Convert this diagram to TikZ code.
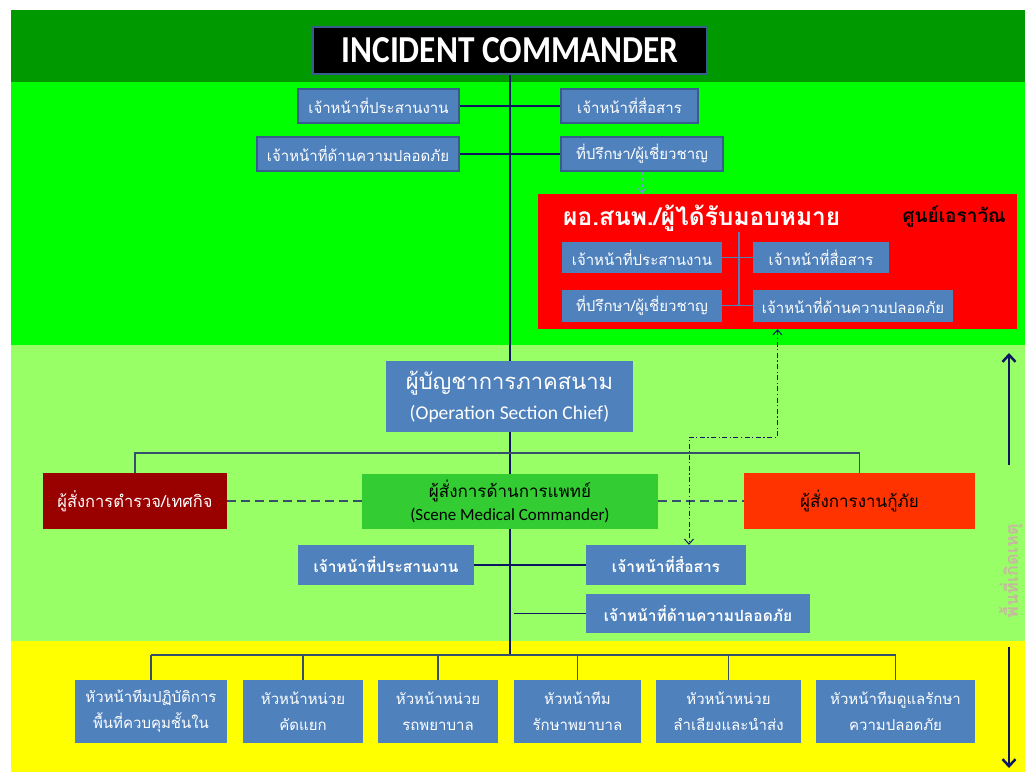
\documentclass[tikz,border=0pt]{standalone}
\usepackage{fontspec}
\setmainfont{Carlito}
\newfontfamily\thai[Script=Thai]{Loma}
\usetikzlibrary{arrows.meta}
\definecolor{dkgreen}{HTML}{009900}
\definecolor{brgreen}{HTML}{00FF00}
\definecolor{ltgreen}{HTML}{99FF66}
\definecolor{yel}{HTML}{FFFF00}
\definecolor{bxblue}{HTML}{4F81BD}
\definecolor{bxborder}{HTML}{385D8A}
\definecolor{navy}{HTML}{0D1660}
\definecolor{slate}{HTML}{34506A}
\definecolor{polred}{HTML}{990000}
\definecolor{medgreen}{HTML}{33CC33}
\definecolor{resred}{HTML}{FF3300}
\definecolor{areatxt}{HTML}{C6B8A0}
\pgfdeclarelayer{bands}
\pgfdeclarelayer{lines}
\pgfsetlayers{bands,lines,main}
\tikzset{
  bluebox/.style={fill=bxblue, draw=bxborder, line width=1.5pt, inner sep=0pt, text=white, align=center,
     font=\thai\fontsize{15}{17}\selectfont},
  flatbox/.style={fill=bxblue, inner sep=0pt, text=white, align=center, font=\thai\fontsize{15}{17}\selectfont},
  staffbox/.style={fill=bxblue, inner sep=0pt, text=white, align=center, font=\thai\bfseries\fontsize{15.5}{17}\selectfont},
  unitbox/.style={fill=bxblue, inner sep=0pt, text=white, align=center, font=\thai\fontsize{15}{26}\selectfont},
  trunk/.style={draw=navy, line width=1.4pt},
  link/.style={draw=navy, line width=1.2pt},
  tree/.style={draw=slate, line width=1.2pt},
  dashlink/.style={draw=slate, line width=1.5pt, dash pattern=on 9pt off 5pt},
  redlink/.style={draw=bxblue, line width=1.5pt},
  bigarrow/.style={draw=navy, line width=2.5pt, -{Straight Barb[length=7pt,width=13pt,line width=2.5pt]}},
}
\begin{document}
\begin{tikzpicture}[x=1pt,y=-1pt]
\useasboundingbox (0,0) rectangle (1025,772);
\begin{pgfonlayer}{bands}
  \fill[white] (0,0) rectangle (1025,772);
  \fill[dkgreen] (11,10) rectangle (1025,82);
  \fill[brgreen] (11,82) rectangle (1025,345);
  \fill[ltgreen] (11,345) rectangle (1025,641);
  \fill[yel] (11,641) rectangle (1025,772);
\end{pgfonlayer}

% Incident commander
\node[fill=black, draw=bxborder, line width=2pt, minimum width=394pt, minimum height=47pt, inner sep=0pt,
      text=white, font=\bfseries\fontsize{34}{36}\selectfont] (ic) at (510,50.5) {\scalebox{0.98}[1.12]{INCIDENT COMMANDER}};

% command staff
\node[bluebox, minimum width=161pt, minimum height=34pt] (a1) at (378.5,106) {เจ้าหน้าที่ประสานงาน};
\node[bluebox, minimum width=137pt, minimum height=34pt] (a2) at (629.5,106) {เจ้าหน้าที่สื่อสาร};
\node[bluebox, minimum width=202pt, minimum height=34pt] (a3) at (358,154) {เจ้าหน้าที่ด้านความปลอดภัย};
\node[bluebox, minimum width=162pt, minimum height=34pt] (a4) at (642,154) {ที่ปรึกษา/ผู้เชี่ยวชาญ};

% red box
\node[fill=red, minimum width=479pt, minimum height=135pt, inner sep=0pt] (red) at (777.5,261.5) {};
\node[anchor=west, inner sep=0pt, text=white, font=\thai\bfseries\fontsize{24.5}{26}\selectfont] (redtitle) at (563,218) {ผอ.สนพ./ผู้ได้รับมอบหมาย};
\node[anchor=east, inner sep=0pt, text=black, font=\thai\bfseries\fontsize{19}{21}\selectfont] (erawan) at (1006,216) {ศูนย์เอราวัณ};
\node[flatbox, minimum width=160pt, minimum height=31pt] (r1) at (642,257.5) {เจ้าหน้าที่ประสานงาน};
\node[flatbox, minimum width=136pt, minimum height=31pt] (r2) at (821,257.5) {เจ้าหน้าที่สื่อสาร};
\node[flatbox, minimum width=160pt, minimum height=32pt] (r3) at (642,305.5) {ที่ปรึกษา/ผู้เชี่ยวชาญ};
\node[flatbox, minimum width=200pt, minimum height=32pt] (r4) at (853,305.5) {เจ้าหน้าที่ด้านความปลอดภัย};
\coordinate (rv) at (739,232);
\draw[redlink] (r1.east) -- (r2.west);
\draw[redlink] (r3.east) -- (r4.west);
\draw[redlink] (rv) -- (rv |- r4.west);

% operation section chief
\node[fill=bxblue, minimum width=247pt, minimum height=71pt, inner sep=0pt, text=white, align=center] (osc) at (509.5,396.5)
  {{\thai\fontsize{22}{24}\selectfont ผู้บัญชาการภาคสนาม}\\[9pt]{\fontsize{19.5}{21}\selectfont (Operation Section Chief)}};

% commanders
\node[fill=polred, minimum width=184pt, minimum height=56pt, inner sep=0pt, text=white,
      font=\thai\fontsize{16.5}{18}\selectfont] (pol) at (135,501) {ผู้สั่งการตำรวจ/เทศกิจ};
\node[fill=medgreen, minimum width=296pt, minimum height=55pt, inner sep=0pt, text=black, align=center] (med) at (510,501)
  {{\thai\fontsize{17}{19}\selectfont ผู้สั่งการด้านการแพทย์}\\[5pt]{\fontsize{17}{18}\selectfont (Scene Medical Commander)}};
\node[fill=resred, minimum width=231pt, minimum height=56pt, inner sep=0pt, text=black,
      font=\thai\fontsize{17}{19}\selectfont] (res) at (859.5,501) {ผู้สั่งการงานกู้ภัย};
\coordinate (hl) at (135,453);

% medical staff
\node[staffbox, minimum width=176pt, minimum height=40pt] (m1) at (386,565) {เจ้าหน้าที่ประสานงาน};
\node[staffbox, minimum width=160pt, minimum height=40pt] (m2) at (666,565) {เจ้าหน้าที่สื่อสาร};
\node[staffbox, minimum width=224pt, minimum height=39pt] (m3) at (698,613.5) {เจ้าหน้าที่ด้านความปลอดภัย};
\coordinate (m3s) at (514,613.5);
\coordinate (dd) at (689,437);

% units
\node[unitbox, minimum width=152pt, minimum height=63pt] (b1) at (151,711.5) {หัวหน้าทีมปฏิบัติการ\\พื้นที่ควบคุมชั้นใน};
\node[unitbox, minimum width=120pt, minimum height=63pt] (b2) at (303,711.5) {หัวหน้าหน่วย\\คัดแยก};
\node[unitbox, minimum width=120pt, minimum height=63pt] (b3) at (438,711.5) {หัวหน้าหน่วย\\รถพยาบาล};
\node[unitbox, minimum width=127pt, minimum height=63pt] (b4) at (577.5,711.5) {หัวหน้าทีม\\รักษาพยาบาล};
\node[unitbox, minimum width=145pt, minimum height=63pt] (b5) at (728.5,711.5) {หัวหน้าหน่วย\\ลำเลียงและนำส่ง};
\node[unitbox, minimum width=159pt, minimum height=63pt] (b6) at (895.5,711.5) {หัวหน้าทีมดูแลรักษา\\ความปลอดภัย};
\coordinate (ybl) at (151,655);
\coordinate (ybr) at (895.5,655);

% right side
\coordinate (upS) at (1009,465);
\coordinate (upE) at (1009,353);
\coordinate (dnS) at (1009,647);
\coordinate (dnE) at (1009,768);
\node[rotate=90, text=areatxt, inner sep=0pt, font=\thai\bfseries\fontsize{18}{20}\selectfont] (area) at (1011,571) {พื้นที่เกิดเหตุ};

\begin{pgfonlayer}{lines}
  \draw[trunk] (ic.south) -- (ic.south |- ybl);
  \draw[link] (a1.east) -- (a2.west);
  \draw[link] (a3.east) -- (a4.west);
  \draw[draw=bxblue!80!white, line width=1pt, dashed, -{Straight Barb[length=5pt,width=8pt]}] (a4.south) -- (a4.south |- red.north);
  \draw[tree] (pol.north) -- (pol.north |- hl) -- (res.north |- hl) -- (res.north);
  \draw[dashlink] (pol.east) -- (med.west);
  \draw[dashlink] (med.east) -- (res.west);
  \draw[draw=navy, line width=1pt, dash pattern=on 5pt off 2.5pt on 1.2pt off 2.5pt,
        {Straight Barb[length=5pt,width=9pt]}-{Straight Barb[length=5pt,width=9pt]}]
        (red.south) |- (dd) -- (dd |- m2.north);
  \draw[link] (m1.east) -- (m2.west);
  \draw[link] (m3s) -- (m3.west);
  \draw[tree] (ybl) -- (ybr);
  \foreach \b in {b1,b2,b3,b4,b5,b6} \draw[tree] (\b.north) -- (\b.north |- ybl);
\end{pgfonlayer}
\draw[bigarrow] (upS) -- (upE);
\draw[bigarrow] (dnS) -- (dnE);
\end{tikzpicture}
\end{document}
